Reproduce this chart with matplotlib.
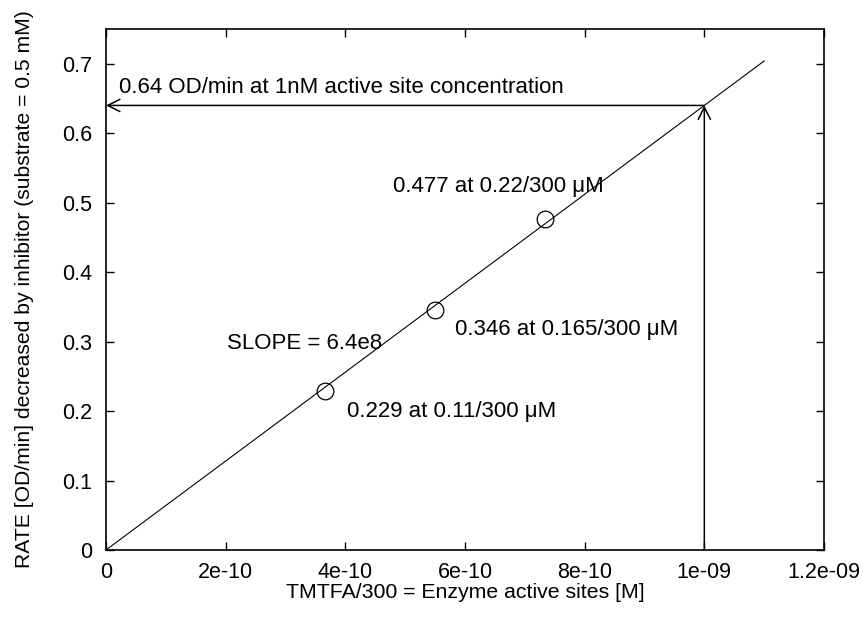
import matplotlib
matplotlib.use("Agg")
import matplotlib.pyplot as plt

plt.rcParams['font.family'] = ['Liberation Sans', 'DejaVu Sans']

# measured points (enzyme active sites [M], rate [OD/min])
conc = [0.11 / 300 * 1e-6, 0.165 / 300 * 1e-6, 0.22 / 300 * 1e-6]
rate = [0.229, 0.346, 0.477]
point_labels = ["0.229 at 0.11/300 \u03bcM",
                "0.346 at 0.165/300 \u03bcM",
                "0.477 at 0.22/300 \u03bcM"]
label_pos = [(0.403e-9, 0.199), (0.584e-9, 0.318), (0.480e-9, 0.523)]

slope = 6.4e8
fit_x = [0.0, 1.1e-9]
fit_y = [slope * v for v in fit_x]

ref_x = 1e-9
ref_y = 0.64

xticks = [0, 2e-10, 4e-10, 6e-10, 8e-10, 1e-9, 1.2e-9]
xtick_labels = ["0", "2e-10", "4e-10", "6e-10", "8e-10", "1e-09", "1.2e-09"]
yticks = [0, 0.1, 0.2, 0.3, 0.4, 0.5, 0.6, 0.7]
ytick_labels = ["0", "0.1", "0.2", "0.3", "0.4", "0.5", "0.6", "0.7"]

fs = 16

fig = plt.figure(figsize=(8.63, 6.19), dpi=100)
ax = fig.add_axes([0.1228, 0.1115, 0.832, 0.8416])

ax.plot(fit_x, fit_y, color="black", linewidth=0.8)
ax.plot(conc, rate, linestyle="none", marker="o", markersize=12,
        markerfacecolor="none", markeredgecolor="black", markeredgewidth=0.9)

# arrows marking 1nM
ax.annotate("", xy=(ref_x, ref_y), xytext=(ref_x, 0),
            arrowprops=dict(arrowstyle="->", color="black", lw=1.1,
                            mutation_scale=22, shrinkA=0, shrinkB=0))
ax.annotate("", xy=(0, ref_y), xytext=(ref_x, ref_y),
            arrowprops=dict(arrowstyle="->", color="black", lw=1.1,
                            mutation_scale=22, shrinkA=0, shrinkB=0))

ax.text(0.022e-9, 0.666, "0.64 OD/min at 1nM active site concentration",
        fontsize=fs, va="center", ha="left")
for (tx, ty), lab in zip(label_pos, point_labels):
    ax.text(tx, ty, lab, fontsize=fs, va="center", ha="left")
ax.text(0.202e-9, 0.297, "SLOPE = 6.4e8", fontsize=fs, va="center", ha="left")

ax.set_xlim(0, 1.2e-9)
ax.set_ylim(0, 0.75)
ax.set_xticks(xticks)
ax.set_xticklabels(xtick_labels)
ax.set_yticks(yticks)
ax.set_yticklabels(ytick_labels)
ax.tick_params(direction="in", top=True, right=True, length=6, width=1,
               labelsize=15.5)
ax.tick_params(axis="x", pad=9)
ax.tick_params(axis="y", pad=10)
for s in ax.spines.values():
    s.set_linewidth(1.2)

ax.set_xlabel("TMTFA/300 = Enzyme active sites [M]", fontsize=15.3, labelpad=0)
ax.set_ylabel("RATE [OD/min] decreased by inhibitor (substrate = 0.5 mM)",
              fontsize=15.2, labelpad=20)

fig.savefig("out.png", dpi=100)
